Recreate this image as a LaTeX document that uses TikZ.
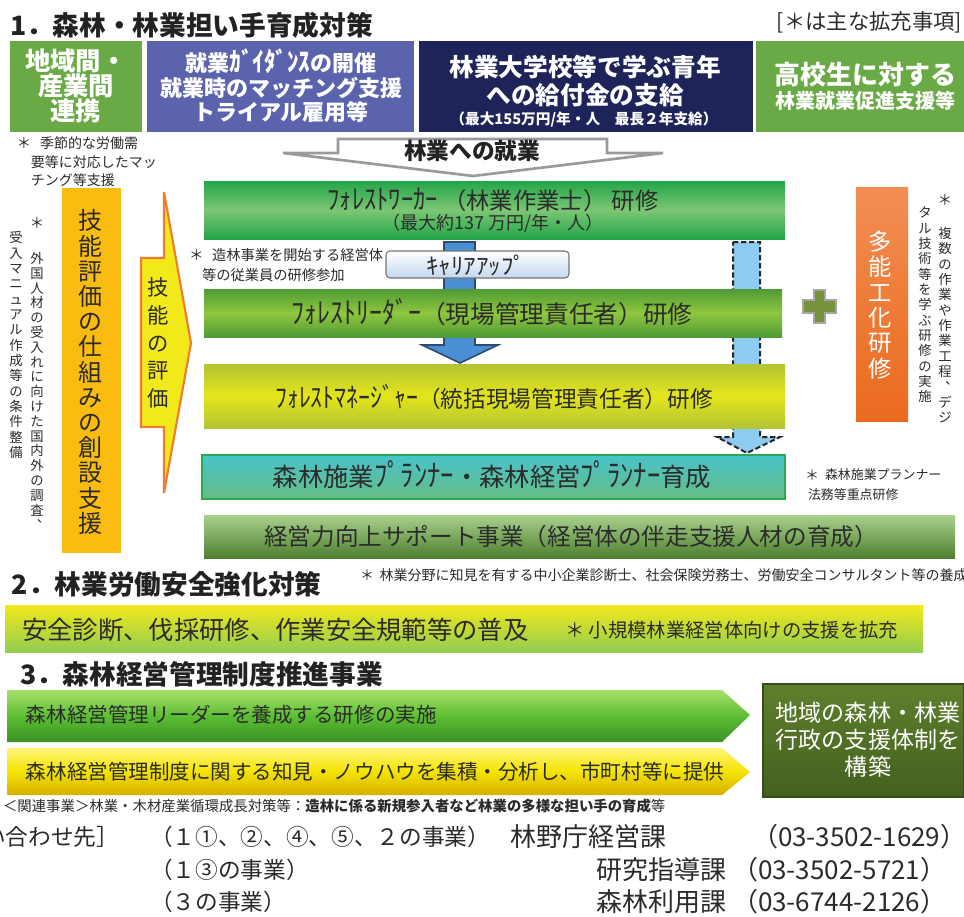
\documentclass[tikz,border=0pt]{standalone}
\usepackage{fontspec}
\usepackage{graphicx}
\setmainfont{Noto Sans CJK JP}
\usetikzlibrary{fit}
\newcommand{\fsz}[2]{\fontsize{#1}{#2}\selectfont}
\newcommand{\vcomma}{\makebox[1em][l]{\hspace{0.5em}\raisebox{0.55em}{\makebox[0pt][l]{、}}}}
\newcommand{\hk}[1]{\scalebox{1.05}[1.2]{#1}}
\definecolor{tt}{HTML}{222222}
\definecolor{txt}{HTML}{2B2B2B}
\definecolor{gA}{HTML}{6AAA46}
\definecolor{pur}{HTML}{5B63AD}
\definecolor{nav}{HTML}{1E2459}
\definecolor{skillc}{HTML}{FBBC12}
\definecolor{yelA}{HTML}{F2E91B}
\definecolor{orA}{HTML}{EE7D31}
\definecolor{chev}{HTML}{9A9A9A}
\definecolor{lblue}{HTML}{8ECBF0}
\definecolor{blu}{HTML}{4A8FD3}
\definecolor{bluD}{HTML}{2E4A6E}
\definecolor{wg1}{HTML}{22A54A}
\definecolor{wg2}{HTML}{7CC674}
\definecolor{lg1}{HTML}{4F9A36}
\definecolor{lg2}{HTML}{8FC73E}
\definecolor{mg1}{HTML}{B3C434}
\definecolor{mg2}{HTML}{E4E51A}
\definecolor{pl1}{HTML}{47C3CB}
\definecolor{pl2}{HTML}{67BC86}
\definecolor{plb}{HTML}{26A94F}
\definecolor{sp1}{HTML}{A9D18E}
\definecolor{sp2}{HTML}{4F7F2E}
\definecolor{og1}{HTML}{F28E53}
\definecolor{og2}{HTML}{EA6A1E}
\definecolor{plusg}{HTML}{77933C}
\definecolor{sb1}{HTML}{F2E81A}
\definecolor{sb2}{HTML}{92CD50}
\definecolor{ga1}{HTML}{A7E06A}
\definecolor{ga2}{HTML}{5CBE33}
\definecolor{ga3}{HTML}{3A9226}
\definecolor{ya1}{HTML}{FFF47A}
\definecolor{ya2}{HTML}{F4E400}
\definecolor{ya3}{HTML}{D6AE00}
\definecolor{dg1}{HTML}{607F2D}
\definecolor{dg2}{HTML}{43601F}
\definecolor{cbl}{HTML}{C3D8EF}
\begin{document}
\begin{tikzpicture}[x=0.75pt,y=-0.75pt,
  every node/.style={inner sep=0pt,outer sep=0pt,text=txt},
  note/.style={font=\fsz{10.5}{13}},
  vnote/.style={align=center,font=\fsz{10}{11.3}},
]
\useasboundingbox (0,0) rectangle (964,917);
\fill[white] (0,0) rectangle (964,917);

% ---------- section 1 title ----------
\node[anchor=west,font=\bfseries\fsz{20}{24},text=tt] (title1) at (10,25) {1．森林・林業担い手育成対策};
\node[anchor=east,font=\fsz{16}{19}] (legend) at (962,22) {[＊は主な拡充事項]};

% ---------- top boxes ----------
\node[fit={(10,41)(142,132)},fill=gA] (b1) {};
\node[align=center,font=\bfseries\fsz{19}{18.75},text=white] (b1t) at (76,86) {地域間・\\産業間\\連携};
\node[fit={(147,41)(414,132)},fill=pur] (b2) {};
\node[align=center,font=\bfseries\fsz{16.5}{18.4},text=white] (b2t) at (281,86) {就業\hk{ｶﾞｲﾀﾞﾝｽ}の開催\\就業時のマッチング支援\\トライアル雇用等};
\node[fit={(419,41)(753,132)},fill=nav] (b3) {};
\node[align=center,font=\bfseries\fsz{18.5}{21},text=white] (b3t) at (585,81) {林業大学校等で学ぶ青年\\への給付金の支給};
\node[font=\bfseries\fsz{11}{13},text=white] (b3s) at (584,120) {（最大155万円/年・人　最長２年支給）};
\node[fit={(756,41)(964,132)},fill=gA] (b4) {};
\node[font=\bfseries\fsz{19.5}{22},text=white] (b4t) at (865,75) {高校生に対する};
\node[font=\bfseries\fsz{15}{18},text=white] (b4s) at (865,101) {林業就業促進支援等};

% ---------- chevron ----------
\draw[line width=2pt,draw=chev,fill=white,line join=miter] (283,153) -- (338,153) -- (338,139) -- (607,139) -- (607,153) -- (663,153) -- (473,176) -- cycle;
\node[font=\bfseries\fsz{17}{20},text=tt] (shu) at (472,151) {林業への就業};

% left note
\node[note,font=\fsz{11}{13}] (st1) at (24,143) {＊};
\node[note,anchor=west,font=\fsz{10.5}{13}] (n1a) at (40,143) {季節的な労働需};
\node[note,anchor=west,font=\fsz{10.5}{13}] (n1b) at (31,162) {要等に対応したマッ};
\node[note,anchor=west,font=\fsz{10.5}{13}] (n1c) at (31,180) {チング等支援};

% ---------- skill evaluation (left) ----------
\node[fit={(62,188)(121,553)},fill=skillc] (skill) {};
\node[align=center,font=\fsz{18}{18.9},text=txt] (skillt) at (90,372) {技\\能\\評\\価\\の\\仕\\組\\み\\の\\創\\設\\支\\援};

\node[font=\fsz{11}{13}] (st2) at (37,223) {＊};
\node[vnote,font=\fsz{10}{11.1}] (vn1) at (37,391) {外\\国\\人\\材\\の\\受\\入\\れ\\に\\向\\け\\た\\国\\内\\外\\の\\調\\査\\\vcomma};
\node[vnote,font=\fsz{10}{11.5}] (vn2) at (16,345) {受\\入\\マ\\ニ\\ュ\\ア\\ル\\作\\成\\等\\の\\条\\件\\整\\備};

% yellow arrow
\draw[draw=orA,line width=1.6pt,fill=yelA,line join=miter] (141,258) -- (164,258) -- (164,192) -- (191,343) -- (164,493) -- (164,427) -- (141,427) -- cycle;
\node[align=center,font=\fsz{16}{20.8}] (evalt) at (158,343) {技\\能\\の\\評\\価};

% ---------- arrows behind boxes ----------
\draw[dash pattern=on 4pt off 2pt,line width=1.5pt,fill=lblue,draw=black!85] (733,242) -- (760,242) -- (760,437) -- (780,437) -- (747,453) -- (717,437) -- (733,437) -- cycle;
\draw[fill=blu,draw=bluD,line width=1.2pt] (444,242) -- (475,242) -- (475,345) -- (498,345) -- (460,363) -- (422,345) -- (444,345) -- cycle;

% ---------- training boxes ----------
\node[fit={(204,181)(785,239)},top color=wg1,bottom color=wg1,middle color=wg2] (worker) {};
\node[font=\fsz{17.5}{20}] (workert) at (493,200) {\hk{ﾌｫﾚｽﾄﾜｰｶｰ} （林業作業士） 研修};
\node[font=\fsz{13.5}{16}] (workers) at (493,223) {（最大約137 万円/年・人）};

\node[note,anchor=west,font=\fsz{11}{13}] (st3) at (189,255) {＊};
\node[note,anchor=west,font=\fsz{10.7}{13}] (n2a) at (212,255) {造林事業を開始する経営体};
\node[note,anchor=west,font=\fsz{10.7}{13}] (n2b) at (202,275) {等の従業員の研修参加};

\node[fit={(386,251)(569,278)},rounded corners=3pt,draw=black!55,line width=0.8pt,top color=white,bottom color=cbl] (career) {};
\node[font=\fsz{15}{18}] (careert) at (476,265) {\scalebox{1.25}[1.15]{ｷｬﾘｱｱｯﾌﾟ}};

\node[fit={(204,289)(782,337)},top color=lg1,bottom color=lg1,middle color=lg2] (leader) {};
\node[font=\fsz{18.5}{22}] (leadert) at (492,312) {\hk{ﾌｫﾚｽﾄﾘｰﾀﾞｰ}（現場管理責任者）研修};

\node[fit={(204,364)(785,428)},top color=mg1,bottom color=mg1,middle color=mg2] (manager) {};
\node[font=\fsz{17}{20}] (managert) at (494,397) {\hk{ﾌｫﾚｽﾄﾏﾈｰｼﾞｬｰ}（統括現場管理責任者）研修};

\node[fit={(202,455)(785,499)},top color=pl1,bottom color=pl2,draw=plb,line width=1pt] (planner) {};
\node[font=\fsz{19}{22}] (plannert) at (492,475) {森林施業\hk{ﾌﾟﾗﾝﾅｰ}・森林経営\hk{ﾌﾟﾗﾝﾅｰ}育成};

\node[note,font=\fsz{10.5}{13}] (st4) at (812,475) {＊};
\node[note,anchor=west,font=\fsz{9.7}{12}] (n3a) at (825,475) {森林施業プランナー};
\node[note,anchor=west,font=\fsz{9.7}{12}] (n3b) at (808,495) {法務等重点研修};

\node[fit={(204,515)(955,558)},top color=sp1,bottom color=sp2] (support) {};
\node[font=\fsz{17.7}{21}] (supportt) at (571,537) {経営力向上サポート事業（経営体の伴走支援人材の育成）};

% plus and multi-skill
\draw[fill=plusg,draw=black!35,line width=1.3pt] (814,290) -- (825,290) -- (825,300) -- (836,300) -- (836,313) -- (825,313) -- (825,323) -- (814,323) -- (814,313) -- (803,313) -- (803,300) -- (814,300) -- cycle;
\node[fit={(856,187)(908,421)},top color=og1,bottom color=og2] (multi) {};
\node[align=center,font=\fsz{17.5}{19},text=white] (multit) at (880,305) {多\\能\\工\\化\\研\\修};

\node[font=\fsz{11}{13}] (st5) at (945,200) {＊};
\node[vnote,font=\fsz{10}{11.5}] (vn3) at (945,325) {複\\数\\の\\作\\業\\や\\作\\業\\工\\程\\\vcomma\\デ\\ジ};
\node[vnote,font=\fsz{10}{11.5}] (vn4) at (925,305) {タ\\ル\\技\\術\\等\\を\\学\\ぶ\\研\\修\\の\\実\\施};

% ---------- section 2 ----------
\node[anchor=west,font=\bfseries\fsz{20}{24},text=tt] (title2) at (12,584) {2．林業労働安全強化対策};
\node[anchor=west,font=\fsz{10.5}{13}] (n4) at (360,575) {＊\hspace{0.4em}林業分野に知見を有する中小企業診断士、社会保険労務士、労働安全コンサルタント等の養成};
\node[fit={(5,605)(923,652)},top color=sb1,bottom color=sb2] (safety) {};
\node[anchor=west,font=\fsz{19}{22}] (safetyt) at (22,630) {安全診断、伐採研修、作業安全規範等の普及};
\node[anchor=west,font=\fsz{14.5}{17}] (safetyn) at (565,630) {＊ 小規模林業経営体向けの支援を拡充};

% ---------- section 3 ----------
\node[anchor=west,font=\bfseries\fsz{20}{24},text=tt] (title3) at (20,674) {3．森林経営管理制度推進事業};
\path[top color=ga1,bottom color=ga3,middle color=ga2] (7,690) -- (722,690) -- (750,715) -- (722,742) -- (7,742) -- cycle;
\node[anchor=west,font=\fsz{15.4}{18}] (a1t) at (26,715) {森林経営管理リーダーを養成する研修の実施};
\path[top color=ya1,bottom color=ya3,middle color=ya2] (7,748) -- (722,748) -- (750,772) -- (722,795) -- (7,795) -- cycle;
\node[anchor=west,font=\fsz{15.4}{18}] (a2t) at (26,772) {森林経営管理制度に関する知見・ノウハウを集積・分析し、市町村等に提供};
\node[fit={(763,684)(964,797)},top color=dg1,bottom color=dg2,draw=dg2!80!black,line width=0.8pt] (region) {};
\node[align=center,font=\fsz{17.3}{20.2},text=white] (regiont) at (868,740) {地域の森林・林業\\行政の支援体制を\\構築};

% ---------- related & contacts ----------
\node[anchor=west,font=\fsz{10.8}{13}] (rel) at (3,806) {＜関連事業＞林業・木材産業循環成長対策等：\textbf{造林に係る新規参入者など林業の多様な担い手の育成}等};

\node[anchor=west,font=\fsz{17}{19}] (c0) at (-62,837) {［問い合わせ先］};
\node[anchor=west,font=\fsz{17}{19}] (c1) at (150,837) {（１①、②、④、⑤、２の事業）};
\node[anchor=west,font=\fsz{17}{19}] (c2) at (150,870) {（１③の事業）};
\node[anchor=west,font=\fsz{17}{19}] (c3) at (150,902) {（３の事業）};
\node[anchor=west,font=\fsz{19.5}{22}] (d1) at (510,837) {林野庁経営課};
\node[anchor=west,font=\fsz{19.5}{22}] (d2) at (596,870) {研究指導課};
\node[anchor=west,font=\fsz{19.5}{22}] (d3) at (596,902) {森林利用課};
\node[anchor=west,font=\fsz{19.5}{22}] (p1) at (752,837) {（03-3502-1629）};
\node[anchor=west,font=\fsz{19.5}{22}] (p2) at (732,870) {（03-3502-5721）};
\node[anchor=west,font=\fsz{19.5}{22}] (p3) at (732,902) {（03-6744-2126）};
\end{tikzpicture}
\end{document}
